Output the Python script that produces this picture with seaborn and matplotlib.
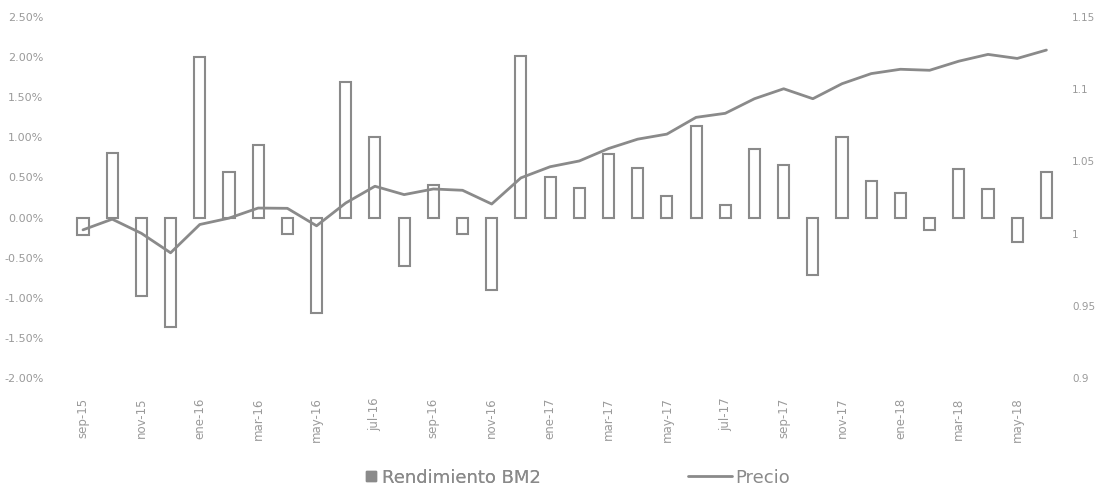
import numpy as np
import pandas as pd
import matplotlib
matplotlib.use("Agg")
import matplotlib.pyplot as plt
import seaborn as sns
from matplotlib.lines import Line2D
from matplotlib.ticker import FuncFormatter

# ===============================
# DATA
# ===============================

meses = ["sep-15", "oct-15", "nov-15", "dic-15", "ene-16", "feb-16", "mar-16", "abr-16",
         "may-16", "jun-16", "jul-16", "ago-16", "sep-16", "oct-16", "nov-16", "dic-16",
         "ene-17", "feb-17", "mar-17", "abr-17", "may-17", "jun-17", "jul-17", "ago-17",
         "sep-17", "oct-17", "nov-17", "dic-17", "ene-18", "feb-18", "mar-18", "abr-18",
         "may-18", "jun-18"]

# rendimiento mensual (%)
rendimiento = [-0.22, 0.81, -0.98, -1.37, 2.00, 0.57, 0.90, -0.21, -1.19, 1.69,
               1.01, -0.60, 0.40, -0.21, -0.90, 2.02, 0.50, 0.37, 0.79, 0.62,
               0.27, 1.14, 0.16, 0.86, 0.66, -0.72, 1.01, 0.45, 0.31, -0.15,
               0.60, 0.36, -0.30, 0.57]

# precio (índice)
precio = [1.0026, 1.0100, 1.0002, 0.9867, 1.0063, 1.0107, 1.0177, 1.0175, 1.0054, 1.0212,
          1.0328, 1.0270, 1.0309, 1.0300, 1.0205, 1.0386, 1.0463, 1.0503, 1.0589, 1.0654,
          1.0689, 1.0805, 1.0833, 1.0934, 1.1003, 1.0934, 1.1038, 1.1108, 1.1138, 1.1131,
          1.1194, 1.1241, 1.1213, 1.1271]

df = pd.DataFrame({"mes": meses, "rendimiento": rendimiento, "precio": precio})
df["pos"] = np.arange(len(df))

# ===============================
# PLOT
# ===============================

sns.set_style("white")
plt.rcParams["font.family"] = ["DejaVu Sans"]

gris = "#8a8a8a"
texto = "#9a9a9a"

fig = plt.figure(figsize=(10.98, 4.94), dpi=100)
ax = fig.add_axes([0.0623, 0.2348, 0.904, 0.7308])

sns.barplot(data=df, x="mes", y="rendimiento", ax=ax, color="white",
            edgecolor=gris, linewidth=1.5, width=0.38, order=meses)

ax.set_ylim(-2.0, 2.5)
ax.set_yticks(np.arange(-2.0, 2.51, 0.5))
ax.yaxis.set_major_formatter(FuncFormatter(lambda v, p: f"{v:.2f}%"))
ax.set_xlim(-0.5, len(meses) - 0.5)
ax.set_xticks(range(0, len(meses), 2))
ax.set_xticklabels(meses[::2], rotation=90, fontsize=8.5, color=texto)
ax.tick_params(axis="y", labelsize=8, colors=texto, length=0, pad=18)
ax.tick_params(axis="x", length=0, pad=14)
ax.set_xlabel("")
ax.set_ylabel("")

ax2 = ax.twinx()
sns.lineplot(data=df, x="pos", y="precio", ax=ax2, color=gris, linewidth=2)
ax2.set_ylim(0.9, 1.15)
ax2.set_yticks([0.9, 0.95, 1.0, 1.05, 1.1, 1.15])
ax2.set_yticklabels(["0.9", "0.95", "1", "1.05", "1.1", "1.15"])
ax2.tick_params(axis="y", labelsize=7.5, colors=texto, length=0, pad=8)
ax2.set_xlim(-0.5, len(meses) - 0.5)
ax2.set_ylabel("")
ax2.set_xlabel("")

for a in (ax, ax2):
    for s in a.spines.values():
        s.set_visible(False)

# ===============================
# LEGEND
# ===============================

h1 = Line2D([], [], marker="s", linestyle="none", markersize=7,
            markerfacecolor=gris, markeredgecolor=gris)
h2 = Line2D([], [], color=gris, linewidth=2)

leg1 = fig.legend([h1], ["Rendimiento BM2"], loc="center left",
                  bbox_to_anchor=(0.318, 0.033), frameon=False,
                  handlelength=0.6, handletextpad=0.3, fontsize=13,
                  labelcolor="#8a8a8a")
leg2 = fig.legend([h2], ["Precio"], loc="center left",
                  bbox_to_anchor=(0.612, 0.033), frameon=False,
                  handlelength=2.4, handletextpad=0.2, fontsize=13,
                  labelcolor="#8a8a8a")
fig.add_artist(leg1)

fig.savefig("out.png", dpi=100)
plt.close(fig)
